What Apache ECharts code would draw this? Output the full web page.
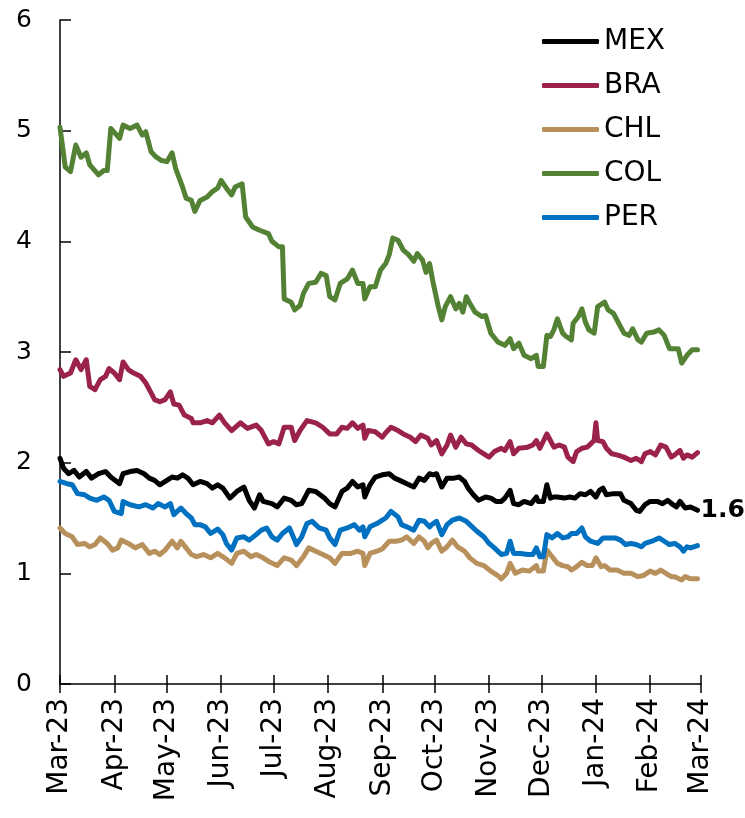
<!DOCTYPE html>
<html>
<head>
<meta charset="utf-8">
<script src="https://cdn.jsdelivr.net/npm/echarts@6/dist/echarts.min.js"></script>
<style>
  html, body { margin: 0; padding: 0; background: #fff; }
  #chart { width: 745px; height: 818px; }
</style>
</head>
<body>
<div id="chart"></div>
<script>
// x = days since 1 Mar 2023
const monthStarts = [0, 31, 61, 92, 122, 153, 184, 214, 245, 275, 306, 337, 366]
const monthLabels = ['Mar-23', 'Apr-23', 'May-23', 'Jun-23', 'Jul-23', 'Aug-23', 'Sep-23',
  'Oct-23', 'Nov-23', 'Dec-23', 'Jan-24', 'Feb-24', 'Mar-24']

const mex = [[0,2.04],[2,1.95],[5,1.90],[8,1.93],[11,1.87],[15,1.92],[18,1.86],[22,1.90],[26,1.92],[29,1.87],
  [34,1.81],[36,1.90],[40,1.92],[44,1.93],[48,1.90],[51,1.86],[54,1.84],[57,1.80],[61,1.84],[64,1.87],
  [67,1.86],[70,1.89],[73,1.86],[76,1.80],[80,1.83],[84,1.81],[87,1.77],[90,1.80],[93,1.77],[97,1.68],
  [101,1.74],[105,1.78],[108,1.66],[111,1.59],[114,1.71],[116,1.65],[121,1.63],[124,1.60],[128,1.68],[132,1.66],
  [135,1.62],[138,1.63],[142,1.75],[146,1.74],[151,1.68],[154,1.63],[157,1.60],[161,1.74],[164,1.77],[167,1.83],
  [170,1.78],[173,1.80],[174,1.69],[177,1.80],[180,1.87],[184,1.89],[188,1.90],[191,1.86],[194,1.84],[198,1.81],
  [202,1.78],[205,1.86],[208,1.84],[211,1.90],[213,1.89],[215,1.90],[218,1.78],[221,1.86],[225,1.86],[228,1.87],
  [231,1.83],[233,1.77],[236,1.71],[239,1.66],[243,1.69],[246,1.68],[249,1.65],[252,1.65],[254,1.68],[257,1.75],
  [259,1.63],[262,1.62],[265,1.65],[269,1.63],[272,1.69],[273,1.65],[276,1.65],[278,1.80],[280,1.68],[282,1.69],
  [284,1.69],[288,1.68],[291,1.69],[294,1.68],[297,1.72],[300,1.71],[303,1.74],[306,1.69],[308,1.75],[310,1.77],
  [312,1.71],[316,1.72],[320,1.72],[322,1.66],[326,1.63],[329,1.57],[331,1.56],[334,1.62],[337,1.65],[341,1.65],
  [344,1.63],[347,1.66],[350,1.62],[352,1.60],[354,1.65],[357,1.59],[360,1.60],[364,1.57]]

const bra = [[0,2.84],[2,2.78],[6,2.81],[9,2.93],[12,2.84],[15,2.93],[17,2.69],[20,2.66],[23,2.75],[26,2.78],
  [28,2.85],[31,2.81],[34,2.75],[36,2.91],[39,2.84],[42,2.81],[46,2.78],[49,2.72],[52,2.63],[54,2.57],
  [57,2.55],[60,2.57],[63,2.64],[65,2.53],[68,2.52],[71,2.43],[75,2.40],[76,2.36],[80,2.36],[84,2.38],
  [87,2.36],[91,2.43],[94,2.36],[98,2.29],[103,2.36],[107,2.31],[112,2.34],[115,2.29],[119,2.17],[122,2.19],
  [125,2.17],[128,2.32],[132,2.32],[134,2.20],[137,2.29],[141,2.38],[146,2.36],[150,2.32],[154,2.26],[158,2.26],
  [161,2.32],[164,2.31],[167,2.36],[170,2.31],[173,2.34],[174,2.22],[176,2.29],[180,2.28],[184,2.23],[186,2.27],
  [189,2.32],[193,2.29],[196,2.26],[200,2.23],[203,2.19],[206,2.25],[210,2.22],[212,2.16],[215,2.20],[218,2.08],
  [221,2.16],[223,2.25],[226,2.14],[229,2.23],[232,2.17],[235,2.16],[239,2.11],[242,2.08],[245,2.05],[248,2.10],
  [252,2.13],[254,2.11],[257,2.19],[259,2.08],[262,2.13],[267,2.14],[270,2.16],[272,2.20],[274,2.13],[278,2.26],
  [280,2.20],[282,2.14],[285,2.16],[288,2.14],[290,2.05],[293,2.01],[295,2.10],[298,2.13],[301,2.14],[303,2.17],
  [305,2.20],[306,2.36],[307,2.20],[310,2.19],[312,2.13],[315,2.08],[318,2.07],[322,2.05],[326,2.02],[329,2.04],
  [332,2.01],[334,2.08],[337,2.10],[340,2.07],[343,2.16],[346,2.14],[349,2.05],[351,2.07],[354,2.11],[356,2.04],
  [358,2.07],[361,2.05],[364,2.09]]

const chl = [[0,1.41],[3,1.36],[7,1.33],[10,1.26],[14,1.27],[17,1.24],[20,1.26],[23,1.32],[27,1.27],[30,1.21],
  [33,1.23],[35,1.30],[39,1.27],[43,1.23],[47,1.26],[51,1.18],[54,1.20],[57,1.17],[60,1.21],[64,1.29],
  [67,1.23],[69,1.29],[72,1.23],[75,1.17],[78,1.15],[82,1.17],[86,1.14],[90,1.18],[94,1.14],[98,1.09],
  [101,1.18],[105,1.20],[109,1.15],[112,1.17],[116,1.14],[120,1.10],[124,1.07],[128,1.14],[132,1.12],[135,1.07],
  [139,1.15],[142,1.23],[146,1.20],[150,1.17],[154,1.14],[157,1.09],[161,1.18],[166,1.18],[170,1.20],[173,1.18],
  [174,1.07],[177,1.18],[181,1.20],[184,1.22],[188,1.29],[192,1.29],[195,1.30],[198,1.33],[202,1.27],[205,1.33],
  [208,1.29],[210,1.23],[212,1.27],[215,1.30],[218,1.20],[221,1.24],[224,1.30],[227,1.24],[231,1.20],[234,1.14],
  [238,1.09],[242,1.07],[246,1.02],[250,0.98],[252,0.95],[255,1.00],[257,1.09],[260,1.00],[264,1.03],[268,1.02],
  [272,1.07],[273,1.02],[276,1.02],[278,1.21],[281,1.15],[284,1.09],[287,1.07],[290,1.06],[292,1.03],[295,1.06],
  [298,1.10],[301,1.07],[304,1.07],[306,1.14],[309,1.06],[311,1.07],[314,1.03],[318,1.03],[322,1.00],[326,1.00],
  [330,0.97],[333,0.98],[337,1.02],[340,1.00],[343,1.03],[346,1.00],[349,0.97],[351,0.97],[355,0.94],[357,0.97],
  [360,0.95],[364,0.95]]

const col = [[0,5.03],[3,4.67],[6,4.63],[9,4.87],[12,4.76],[15,4.80],[17,4.69],[22,4.60],[25,4.64],[27,4.64],
  [29,5.02],[34,4.93],[36,5.05],[40,5.02],[44,5.05],[47,4.96],[49,4.99],[52,4.81],[55,4.76],[58,4.73],
  [61,4.72],[64,4.80],[66,4.66],[70,4.49],[72,4.39],[75,4.37],[77,4.27],[80,4.37],[84,4.40],[87,4.45],
  [90,4.48],[92,4.55],[95,4.48],[98,4.42],[100,4.49],[104,4.52],[106,4.22],[110,4.13],[114,4.10],[119,4.07],
  [121,4.00],[125,3.95],[127,3.95],[128,3.48],[132,3.45],[134,3.38],[137,3.42],[139,3.53],[142,3.62],[146,3.63],
  [149,3.71],[152,3.69],[154,3.50],[157,3.47],[160,3.62],[164,3.66],[167,3.74],[170,3.62],[173,3.62],[174,3.48],
  [177,3.59],[180,3.59],[183,3.74],[186,3.80],[188,3.88],[190,4.03],[193,4.01],[196,3.92],[199,3.88],[202,3.82],
  [204,3.89],[207,3.83],[209,3.72],[211,3.80],[213,3.63],[216,3.41],[218,3.29],[220,3.41],[223,3.50],[226,3.39],
  [228,3.44],[230,3.36],[232,3.50],[234,3.44],[237,3.36],[241,3.32],[243,3.33],[246,3.17],[250,3.09],[254,3.06],
  [257,3.12],[259,3.03],[262,3.08],[265,2.97],[269,2.94],[272,2.97],[273,2.87],[276,2.87],[278,3.15],[280,3.14],
  [282,3.20],[284,3.30],[287,3.17],[289,3.14],[292,3.11],[293,3.26],[296,3.32],[298,3.39],[300,3.27],[302,3.20],
  [305,3.17],[307,3.41],[311,3.45],[313,3.38],[316,3.35],[319,3.26],[322,3.17],[325,3.15],[327,3.21],[330,3.11],
  [332,3.09],[335,3.17],[339,3.18],[342,3.20],[345,3.15],[348,3.03],[351,3.03],[353,3.03],[355,2.90],[358,2.97],
  [361,3.02],[364,3.02]]

const per = [[0,1.83],[4,1.81],[7,1.80],[10,1.72],[14,1.71],[17,1.68],[21,1.66],[25,1.69],[28,1.66],[31,1.56],
  [35,1.54],[36,1.65],[40,1.62],[45,1.60],[49,1.62],[53,1.59],[56,1.63],[60,1.60],[63,1.63],[65,1.53],
  [69,1.59],[72,1.54],[75,1.50],[77,1.44],[80,1.44],[83,1.42],[86,1.36],[90,1.40],[93,1.35],[95,1.27],
  [98,1.21],[101,1.32],[105,1.33],[108,1.30],[112,1.35],[115,1.39],[118,1.41],[121,1.33],[124,1.30],[127,1.36],
  [131,1.41],[134,1.30],[135,1.26],[138,1.33],[141,1.45],[144,1.47],[148,1.41],[152,1.39],[154,1.32],[157,1.26],
  [160,1.39],[164,1.41],[168,1.44],[171,1.39],[173,1.42],[174,1.33],[177,1.42],[181,1.45],[184,1.48],[186,1.50],
  [189,1.56],[193,1.51],[195,1.44],[198,1.42],[202,1.39],[205,1.48],[208,1.47],[211,1.42],[213,1.45],[215,1.47],
  [218,1.35],[221,1.44],[224,1.48],[228,1.50],[232,1.47],[234,1.44],[238,1.38],[242,1.33],[245,1.27],[248,1.23],
  [252,1.17],[255,1.18],[257,1.29],[259,1.18],[263,1.18],[267,1.17],[270,1.17],[272,1.23],[274,1.15],[276,1.15],
  [278,1.35],[281,1.32],[284,1.36],[287,1.32],[290,1.33],[292,1.36],[295,1.36],[298,1.41],[300,1.33],[303,1.29],
  [307,1.27],[310,1.32],[313,1.32],[317,1.32],[320,1.30],[323,1.26],[326,1.27],[329,1.26],[332,1.24],[334,1.27],
  [338,1.29],[342,1.32],[345,1.29],[348,1.26],[351,1.27],[354,1.24],[356,1.20],[358,1.24],[360,1.23],[364,1.25]]

const seriesNames = ['MEX', 'BRA', 'CHL', 'COL', 'PER']
const seriesData = [mex, bra, chl, col, per]
const colors = ['#000000', '#9b2248', '#b8905c', '#548235', '#0070c0']

const FONT = 'DejaVu Sans'

const chart = echarts.init(document.getElementById('chart'))

const series = seriesNames.map((name, i) => ({
  name,
  type: 'line',
  data: seriesData[i],
  showSymbol: false,
  symbol: 'none',
  color: colors[i],
  lineStyle: { width: 5, color: colors[i], join: 'round', cap: 'round' },
  animation: false,
  endLabel: i === 0 ? {
    show: true,
    formatter: p => p.value[1].toFixed(1),
    fontFamily: FONT,
    fontSize: 25,
    fontWeight: 'bold',
    color: '#000',
    distance: 3,
  } : { show: false },
}))

const monthAxis = {
  type: 'value',
  min: 0,
  max: 366,
  splitLine: { show: false },
}

chart.setOption({
  backgroundColor: '#fff',
  animation: false,
  grid: { left: 60, right: 44, top: 20, bottom: 134 },
  legend: {
    data: seriesNames,
    orient: 'vertical',
    left: 537,
    top: 22,
    icon: 'roundRect',
    itemWidth: 57,
    itemHeight: 5,
    itemGap: 15,
    textStyle: { fontFamily: FONT, fontSize: 28, color: '#000', lineHeight: 29 },
  },
  xAxis: [
    {
      ...monthAxis,
      axisLine: { show: true, lineStyle: { color: '#000', width: 1.5 } },
      axisTick: { show: true, length: 9, customValues: monthStarts, lineStyle: { color: '#000', width: 1.5 } },
      axisLabel: {
        customValues: monthStarts,
        formatter: v => monthLabels[monthStarts.indexOf(v)] ?? '',
        rotate: 90,
        margin: 14,
        fontFamily: FONT,
        fontSize: 28,
        color: '#000',
      },
    },
    {
      ...monthAxis,
      position: 'bottom',
      axisLine: { show: false },
      axisTick: { show: true, inside: true, length: 9, customValues: monthStarts, lineStyle: { color: '#000', width: 1.5 } },
      axisLabel: { show: false },
    },
  ],
  yAxis: {
    type: 'value',
    min: 0,
    max: 6,
    interval: 1,
    splitLine: { show: false },
    axisLine: { show: true, lineStyle: { color: '#000', width: 1.5 } },
    axisTick: { show: true, inside: true, length: 11, lineStyle: { color: '#000', width: 1.5 } },
    axisLabel: { fontFamily: FONT, fontSize: 25, color: '#000', margin: 28 },
  },
  series,
})
</script>
</body>
</html>
